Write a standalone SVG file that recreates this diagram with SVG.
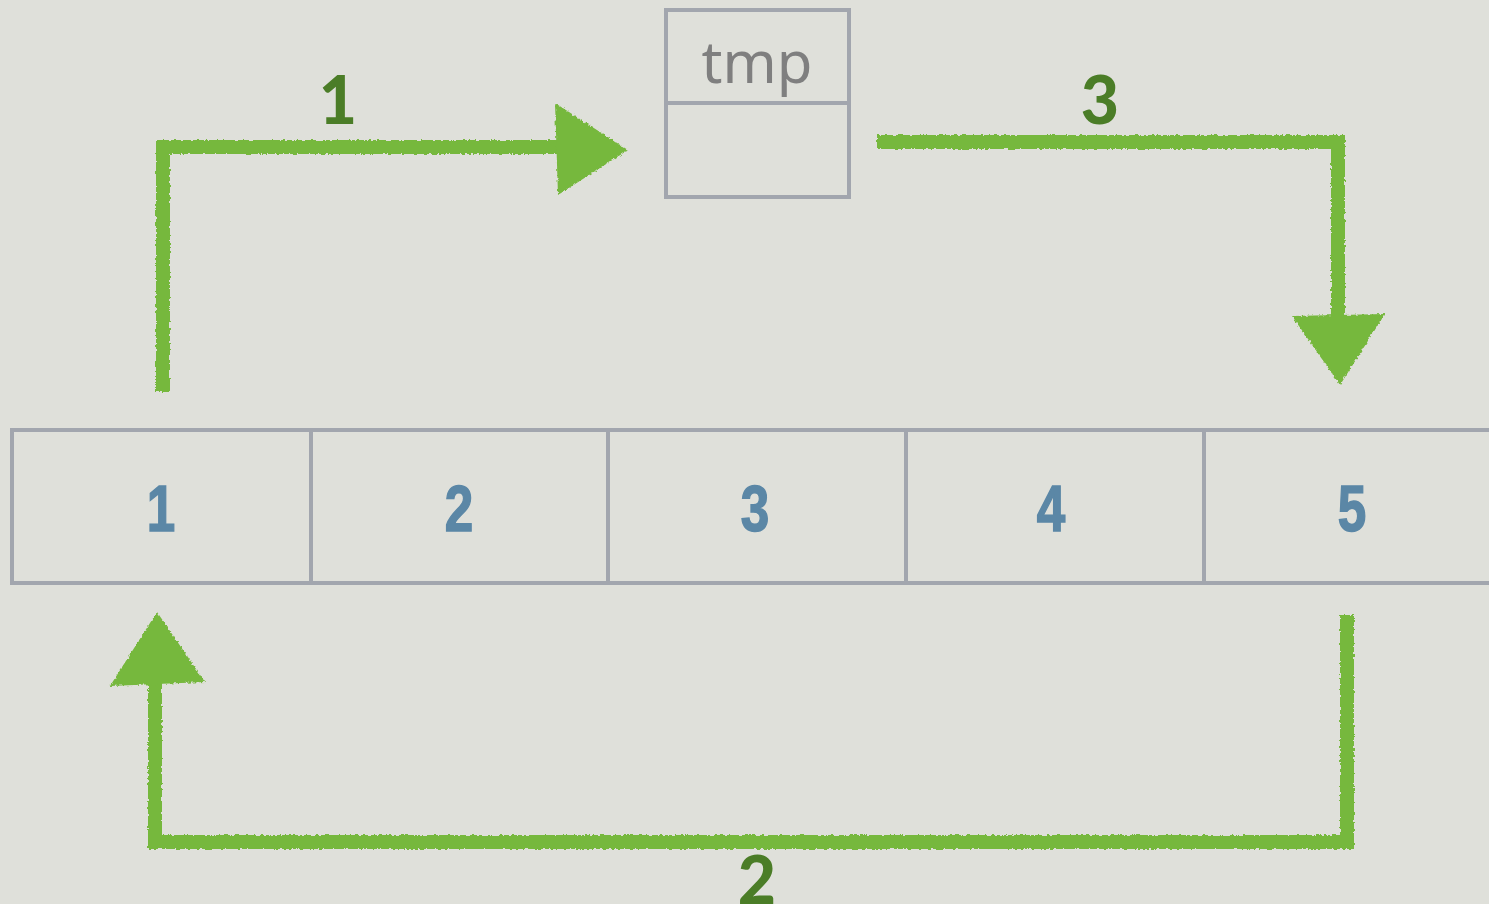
<svg xmlns="http://www.w3.org/2000/svg" width="1489" height="904" viewBox="0 0 1489 904">
<defs>
<style>
.box{fill:none;stroke:#a2a6ae;stroke-width:4}
.num{font-family:"Liberation Sans",Arial,sans-serif;font-weight:bold;font-size:64px;fill:#5b87a6;text-anchor:middle;stroke:#5b87a6;stroke-width:1.5}
.lbl{font-family:"Lato","Noto Sans",sans-serif;font-weight:900;font-size:66px;fill:#4b7d27;text-anchor:middle}
.tmp{font-family:"Noto Sans","Open Sans",sans-serif;font-size:58px;fill:#7f7f7f;text-anchor:middle}
.arr{fill:none;stroke:#76b83d;stroke-width:14;stroke-linejoin:miter;stroke-linecap:butt}
.head{fill:#76b83d}
</style>
<filter id="chalk" x="-5%" y="-5%" width="110%" height="110%">
<feTurbulence type="fractalNoise" baseFrequency="0.35" numOctaves="2" seed="3" result="n"/>
<feDisplacementMap in="SourceGraphic" in2="n" scale="4" xChannelSelector="R" yChannelSelector="G"/>
</filter>
</defs>
<rect width="1489" height="904" fill="#dfe0da"/>
<g id="tmp">
<rect class="box" x="666" y="10" width="183" height="187"/>
<line class="box" x1="666" y1="103" x2="849" y2="103"/>
<text class="tmp" x="757" y="83">tmp</text>
</g>
<g id="array">
<rect class="box" x="12" y="430" width="1490" height="153"/>
<line class="box" x1="311" y1="430" x2="311" y2="583"/>
<line class="box" x1="608" y1="430" x2="608" y2="583"/>
<line class="box" x1="906" y1="430" x2="906" y2="583"/>
<line class="box" x1="1204" y1="430" x2="1204" y2="583"/>
</g>
<g id="cell1"><text class="num" transform="translate(161 531) scale(0.8 1)">1</text></g>
<g id="cell2"><text class="num" transform="translate(459 531) scale(0.8 1)">2</text></g>
<g id="cell3"><text class="num" transform="translate(755 531) scale(0.8 1)">3</text></g>
<g id="cell4"><text class="num" transform="translate(1051 531) scale(0.8 1)">4</text></g>
<g id="cell5"><text class="num" transform="translate(1352 531) scale(0.8 1)">5</text></g>
<g id="connectors" filter="url(#chalk)">
<path class="arr" d="M163 392 V147 H562"/>
<polygon class="head" points="555,103 628,150 558,195"/>
<path class="arr" d="M877 142 H1338 V318"/>
<polygon class="head" points="1292,316 1385,314 1340,385"/>
<path class="arr" d="M1347 615 V842 H155 V680"/>
<polygon class="head" points="110,686 205,682 157,612"/>
</g>
<g id="labels">
<text class="lbl" x="338" y="124">1</text>
<text class="lbl" x="1100" y="124">3</text>
<text class="lbl" x="757" y="904">2</text>
</g>
</svg>
